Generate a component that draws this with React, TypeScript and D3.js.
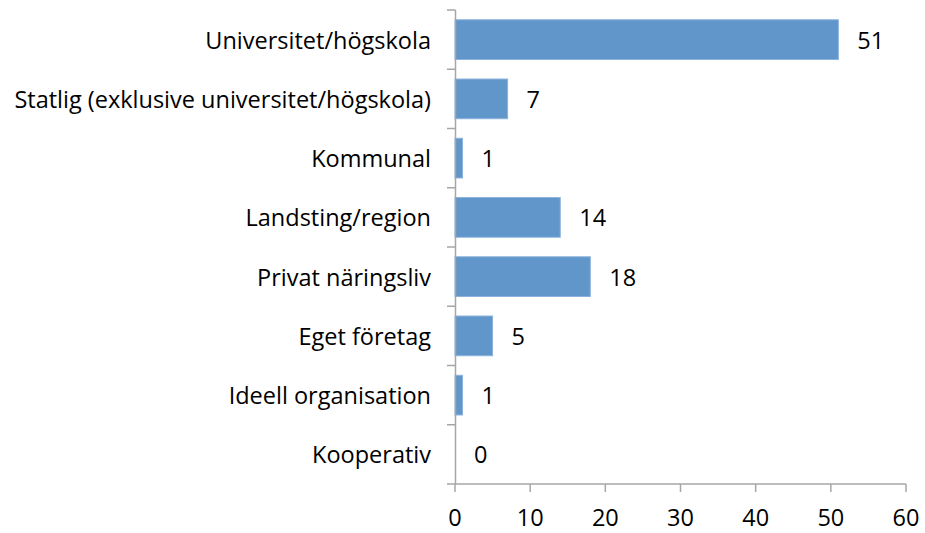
import React, { useRef, useEffect } from "react";
import * as d3 from "d3";

const categories = [
  "Universitet/högskola",
  "Statlig (exklusive universitet/högskola)",
  "Kommunal",
  "Landsting/region",
  "Privat näringsliv",
  "Eget företag",
  "Ideell organisation",
  "Kooperativ",
];
const values = [51, 7, 1, 14, 18, 5, 1, 0];
const xTicks = [0, 10, 20, 30, 40, 50, 60];

const W = 925;
const H = 533;
const FONT = "'Open Sans', sans-serif";
const FS = 23.5;

export default function App() {
  const ref = useRef<SVGSVGElement>(null);
  useEffect(() => {
    const svg = d3.select(ref.current);
    svg.selectAll("*").remove();
    const x = d3.scaleLinear().domain([0, 60]).range([455, 906]);
    const y = d3.scaleBand<string>().domain(categories).range([10, 484]).paddingInner(0.33).paddingOuter(0.165);
    const axisColor = "#a6a6a6";
    const g = svg.append("g");

    g.selectAll("rect.bar")
      .data(values)
      .enter()
      .append("rect")
      .attr("x", x(0))
      .attr("y", (_, i) => y(categories[i])!)
      .attr("width", (d) => x(d) - x(0))
      .attr("height", y.bandwidth())
      .attr("fill", "#6096c9")
      .attr("stroke", "#8cb2dc")
      .attr("stroke-width", 1);

    g.append("line").attr("x1", 455.5).attr("x2", 455.5).attr("y1", 10).attr("y2", 484).attr("stroke", axisColor).attr("stroke-width", 1.5);
    const step = (484 - 10) / categories.length;
    for (let i = 0; i <= categories.length; i++) {
      const yy = 10 + i * step;
      g.append("line").attr("x1", 447).attr("x2", 455.5).attr("y1", yy).attr("y2", yy).attr("stroke", axisColor).attr("stroke-width", 1.5);
    }
    g.append("line").attr("x1", 455).attr("x2", x(60)).attr("y1", 484).attr("y2", 484).attr("stroke", axisColor).attr("stroke-width", 1.5);
    xTicks.forEach((t) => {
      g.append("line").attr("x1", x(t)).attr("x2", x(t)).attr("y1", 484).attr("y2", 492).attr("stroke", axisColor).attr("stroke-width", 1.5);
      g.append("text").attr("x", x(t)).attr("y", 526).attr("text-anchor", "middle").attr("font-family", FONT).attr("font-size", FS).attr("fill", "#000").text(String(t));
    });

    categories.forEach((c, i) => {
      const cy = y(c)! + y.bandwidth() / 2;
      g.append("text").attr("x", 431).attr("y", cy + 9).attr("text-anchor", "end").attr("font-family", FONT).attr("font-size", FS).attr("fill", "#000").text(c);
      g.append("text").attr("x", x(values[i]) + 19).attr("y", cy + 9).attr("text-anchor", "start").attr("font-family", FONT).attr("font-size", FS).attr("fill", "#000").text(String(values[i]));
    });
  }, []);
  return (
    <svg ref={ref} width={W} height={H} style={{ position: "absolute", left: 0, top: 0, background: "#fff" }} />
  );
}
